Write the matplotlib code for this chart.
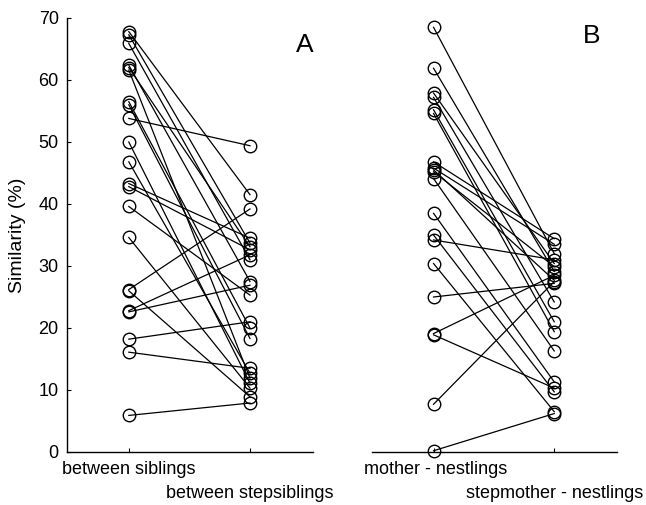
import matplotlib
matplotlib.use("Agg")
import matplotlib.pyplot as plt
from matplotlib.transforms import blended_transform_factory

plt.rcParams['font.family'] = ['Liberation Sans', 'DejaVu Sans']

# Panel A: between siblings -> between stepsiblings
a_siblings = [67.8, 67.3, 65.9, 62.4, 62.0, 61.6, 56.5, 56.0, 53.8, 50.0, 46.8,
              43.3, 42.8, 39.6, 34.6, 26.2, 26.0, 22.8, 22.6, 18.2, 16.1, 5.9]
a_stepsiblings = [41.5, 33.7, 31.0, 27.5, 33.1, 11.9, 20.0, 18.3, 49.4, 11.1, 12.7,
                  34.5, 32.6, 25.3, 10.3, 39.2, 8.9, 31.8, 26.9, 21.0, 13.5, 7.9]

# Panel B: mother - nestlings -> stepmother - nestlings
b_mother = [68.5, 61.9, 57.9, 57.2, 55.2, 54.6, 46.8, 45.8, 45.5, 45.2,
            44.1, 38.5, 35.0, 34.2, 30.4, 25.0, 19.1, 18.9, 7.7, 0.2]
b_stepmother = [32.0, 29.1, 30.4, 24.2, 21.0, 19.4, 34.4, 33.5, 27.7, 29.9,
                16.3, 11.3, 9.7, 31.0, 6.5, 27.2, 28.5, 10.3, 27.5, 6.2]

labels_a = ["between siblings", "between stepsiblings"]
labels_b = ["mother - nestlings", "stepmother - nestlings"]
yticks = [0, 10, 20, 30, 40, 50, 60, 70]

W, H = 646, 505
fig = plt.figure(figsize=(W / 100, H / 100), dpi=100)

axA = fig.add_axes([67 / W, 1 - 452 / H, (313 - 67) / W, (452 - 18) / H])
axB = fig.add_axes([372 / W, 1 - 452 / H, (617 - 372) / W, (452 - 18) / H])

def draw(ax, left, right):
    for l, r in zip(left, right):
        ax.plot([1, 2], [l, r], color='black', lw=0.9, marker='o', ms=9,
                mfc='none', mec='black', mew=1.0, clip_on=False)
    ax.set_xlim(0.49, 2.52)
    ax.set_ylim(0, 70)
    ax.spines['top'].set_visible(False)
    ax.spines['right'].set_visible(False)
    ax.spines['bottom'].set_linewidth(1.0)
    ax.spines['left'].set_linewidth(1.0)
    ax.set_xticks([1, 2])
    ax.set_xticklabels([])
    ax.tick_params(axis='x', direction='in', length=3, width=0.8)
    ax.patch.set_visible(False)

draw(axA, a_siblings, a_stepsiblings)
draw(axB, b_mother, b_stepmother)

axA.set_yticks(yticks)
axA.tick_params(axis='y', direction='in', length=3, width=0.8, labelsize=13, pad=6)
axA.set_ylabel("Similarity (%)", fontsize=14, labelpad=9)

axB.spines['left'].set_visible(False)
axB.set_yticks([])

# staggered category labels
trA = blended_transform_factory(axA.transData, fig.transFigure)
trB = blended_transform_factory(axB.transData, fig.transFigure)
axA.text(1.0, 1 - 470 / H, labels_a[0], transform=trA, ha='center', va='center', fontsize=13)
axA.text(2.0, 1 - 493 / H, labels_a[1], transform=trA, ha='center', va='center', fontsize=13)
axB.text(1.02, 1 - 470 / H, labels_b[0], transform=trB, ha='center', va='center', fontsize=13)
axB.text(2.0, 1 - 493 / H, labels_b[1], transform=trB, ha='center', va='center', fontsize=13)

# panel letters
fig.text(305 / W, 1 - 45 / H, "A", fontsize=19, ha='center', va='center')
fig.text(592 / W, 1 - 36 / H, "B", fontsize=19, ha='center', va='center')

fig.savefig("out.png", dpi=100)
